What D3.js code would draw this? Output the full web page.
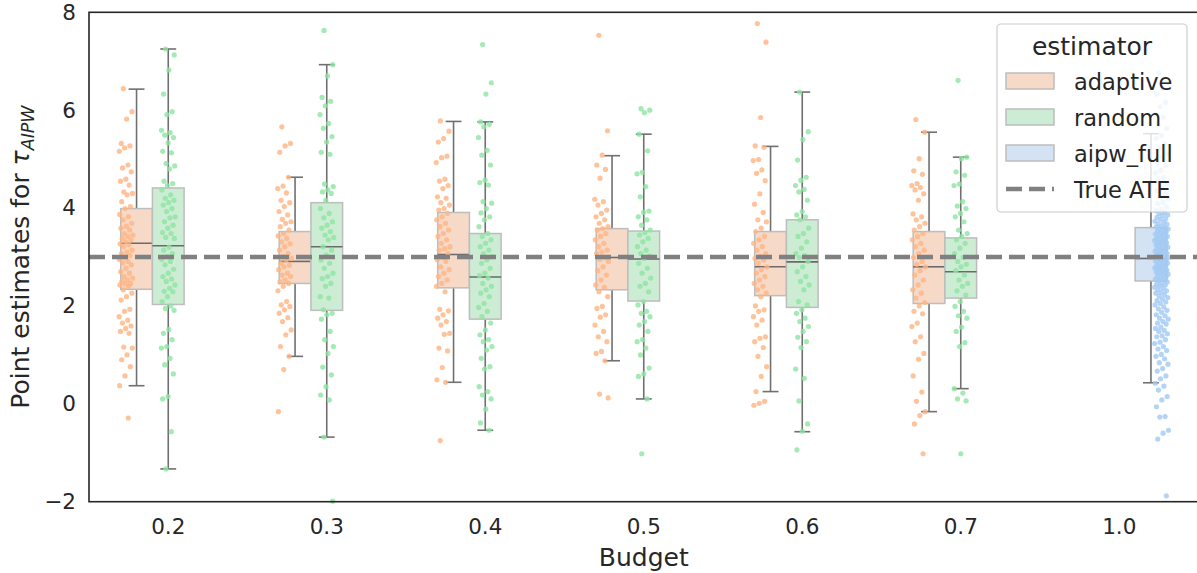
<!DOCTYPE html>
<html>
<head>
<meta charset="utf-8">
<script src="https://cdn.jsdelivr.net/npm/d3@7"></script>
<style>
  body { margin: 0; background: #fff; }
  svg { display: block; font-family: "DejaVu Sans", sans-serif; }
</style>
</head>
<body>
<svg id="chart" width="1197" height="573"></svg>
<script>
// Boxplot + stripplot of point estimates per budget, seaborn-style.

const budgets = ["0.2", "0.3", "0.4", "0.5", "0.6", "0.7", "1.0"];
const estimators = ["adaptive", "random", "aipw_full"];
const yTicks = [-2, 0, 2, 4, 6, 8];
const trueATE = 3.0;

// box stats per budget: [lower whisker, q1, median, q3, upper whisker]
const adaptiveBox = [
  [0.37, 2.34, 3.28, 3.99, 6.43],
  [0.97, 2.46, 2.91, 3.52, 4.63],
  [0.44, 2.37, 3.05, 3.91, 5.77],
  [0.88, 2.33, 2.99, 3.58, 5.07],
  [0.25, 2.21, 2.80, 3.52, 5.26],
  [-0.16, 2.05, 2.80, 3.52, 5.55]
];
const randomBox = [
  [-1.33, 2.03, 3.23, 4.41, 7.25],
  [-0.68, 1.91, 3.21, 4.11, 6.93],
  [-0.54, 1.73, 2.59, 3.48, 5.76],
  [0.10, 2.10, 2.96, 3.53, 5.51],
  [-0.57, 1.97, 2.90, 3.76, 6.37],
  [0.31, 2.16, 2.70, 3.39, 5.04]
];
const aipwBox = [0.43, 2.51, 2.97, 3.60, 5.52]; // budget 1.0 only

// individual estimates
const adaptive02 = [6.44, 5.97, 5.82, 5.32, 5.27, 5.23, 5.16, 4.88, 4.82, 4.74, 4.59, 4.55, 4.47, 4.33, 4.30, 4.27, 4.13, 4.03, 3.99, 3.87, 3.82, 3.76, 3.69, 3.63, 3.59, 3.55, 3.48, 3.45, 3.42, 3.38, 3.35, 3.31, 3.27, 3.25, 3.21, 3.14, 3.10, 3.07, 3.03, 2.99, 2.95, 2.91, 2.88, 2.84, 2.77, 2.70, 2.67, 2.60, 2.57, 2.53, 2.50, 2.46, 2.45, 2.43, 2.40, 2.33, 2.26, 2.19, 2.12, 1.93, 1.89, 1.78, 1.71, 1.65, 1.59, 1.54, 1.48, 1.44, 1.16, 1.14, 1.00, 0.90, 0.76, 0.57, 0.37, -0.29];
const random02 = [7.25, 7.13, 6.82, 6.33, 5.97, 5.91, 5.59, 5.54, 5.49, 5.44, 5.33, 5.16, 5.13, 4.91, 4.86, 4.80, 4.55, 4.50, 4.46, 4.37, 4.27, 4.20, 4.16, 4.11, 4.06, 3.99, 3.93, 3.82, 3.80, 3.72, 3.65, 3.59, 3.50, 3.48, 3.40, 3.38, 3.20, 3.14, 3.07, 3.01, 2.95, 2.91, 2.84, 2.75, 2.67, 2.60, 2.55, 2.50, 2.43, 2.36, 2.30, 2.29, 2.19, 2.09, 2.00, 1.95, 1.91, 1.52, 1.44, 1.31, 1.17, 1.14, 0.93, 0.80, 0.61, 0.15, 0.10, -0.57, -1.33];
const adaptive03 = [5.66, 5.32, 5.27, 5.14, 4.63, 4.45, 4.40, 4.31, 4.16, 4.11, 4.03, 3.93, 3.86, 3.77, 3.72, 3.69, 3.62, 3.55, 3.48, 3.43, 3.38, 3.31, 3.27, 3.21, 3.14, 3.07, 3.01, 2.97, 2.94, 2.87, 2.83, 2.80, 2.74, 2.67, 2.63, 2.60, 2.53, 2.49, 2.46, 2.40, 2.31, 2.09, 2.02, 1.99, 1.92, 1.85, 1.76, 1.68, 1.51, 1.41, 1.17, 0.97, 0.70, -0.16];
const random03 = [7.63, 6.93, 6.70, 6.26, 6.18, 6.09, 5.91, 5.73, 5.63, 5.46, 5.35, 5.14, 5.10, 4.49, 4.44, 4.37, 4.33, 4.30, 4.16, 3.99, 3.89, 3.80, 3.72, 3.65, 3.59, 3.52, 3.45, 3.40, 3.35, 3.21, 3.14, 3.04, 2.94, 2.87, 2.77, 2.67, 2.60, 2.56, 2.46, 2.40, 2.19, 2.16, 1.92, 1.85, 1.82, 1.73, 1.48, 1.31, 1.17, 1.03, 0.75, 0.59, 0.35, 0.18, 0.08, -0.68, -1.99];
const adaptive04 = [5.78, 5.57, 5.42, 5.35, 5.06, 5.03, 4.93, 4.59, 4.55, 4.46, 4.40, 4.23, 4.20, 4.11, 4.06, 3.99, 3.96, 3.89, 3.82, 3.76, 3.69, 3.62, 3.55, 3.48, 3.42, 3.35, 3.28, 3.21, 3.17, 3.14, 3.07, 2.99, 2.95, 2.91, 2.80, 2.74, 2.67, 2.60, 2.53, 2.46, 2.40, 2.29, 1.93, 1.90, 1.82, 1.75, 1.68, 1.61, 1.44, 1.42, 1.14, 1.08, 0.74, 0.49, 0.44, -0.75];
const random04 = [7.34, 6.56, 6.33, 5.76, 5.71, 5.66, 5.44, 5.18, 5.08, 4.88, 4.57, 4.52, 4.47, 4.13, 4.10, 3.99, 3.90, 3.82, 3.76, 3.62, 3.48, 3.42, 3.35, 3.28, 3.21, 3.14, 3.07, 3.01, 2.94, 2.87, 2.77, 2.67, 2.62, 2.57, 2.46, 2.40, 2.33, 2.26, 2.19, 2.05, 1.97, 1.89, 1.78, 1.65, 1.51, 1.41, 1.31, 1.27, 1.17, 1.10, 0.93, 0.76, 0.71, 0.35, 0.25, 0.18, 0.10, -0.11, -0.39, -0.54];
const adaptive05 = [7.53, 5.58, 5.08, 4.88, 4.79, 4.61, 4.18, 4.13, 4.06, 3.96, 3.89, 3.82, 3.76, 3.69, 3.62, 3.58, 3.55, 3.48, 3.42, 3.35, 3.28, 3.21, 3.14, 3.10, 3.07, 2.99, 2.95, 2.91, 2.80, 2.72, 2.63, 2.53, 2.43, 2.38, 2.29, 2.19, 1.99, 1.95, 1.82, 1.77, 1.61, 1.48, 1.37, 1.27, 1.07, 1.03, 0.88, 0.20, 0.12];
const random05 = [6.03, 6.00, 5.95, 5.51, 5.17, 4.73, 4.70, 4.44, 4.23, 3.94, 3.91, 3.82, 3.76, 3.65, 3.55, 3.50, 3.45, 3.38, 3.31, 3.21, 3.14, 3.07, 3.02, 2.97, 2.87, 2.77, 2.67, 2.57, 2.46, 2.40, 2.29, 2.09, 2.02, 1.89, 1.85, 1.78, 1.68, 1.61, 1.48, 1.31, 1.27, 1.14, 1.00, 0.73, 0.61, 0.56, 0.10, -1.02];
const adaptive06 = [7.77, 7.39, 5.85, 5.27, 5.24, 4.99, 4.97, 4.78, 4.71, 4.56, 4.29, 4.08, 3.91, 3.76, 3.72, 3.59, 3.52, 3.42, 3.35, 3.28, 3.21, 3.14, 3.07, 3.01, 2.97, 2.94, 2.87, 2.80, 2.74, 2.67, 2.60, 2.53, 2.46, 2.40, 2.33, 2.26, 2.19, 2.00, 1.92, 1.89, 1.78, 1.71, 1.61, 1.37, 1.34, 1.27, 1.15, 0.97, 0.76, 0.56, 0.25, 0.05, 0.01, -0.03];
const random06 = [6.37, 5.56, 5.40, 4.98, 4.63, 4.57, 4.46, 4.38, 4.33, 4.16, 3.93, 3.86, 3.82, 3.76, 3.59, 3.48, 3.42, 3.31, 3.18, 3.07, 3.03, 2.99, 2.91, 2.80, 2.70, 2.60, 2.50, 2.43, 2.33, 2.09, 2.02, 1.92, 1.85, 1.75, 1.68, 1.58, 1.48, 1.36, 1.27, 1.15, 0.71, 0.52, 0.06, -0.41, -0.56, -0.94];
const adaptive07 = [5.81, 5.55, 5.01, 4.76, 4.69, 4.50, 4.46, 4.42, 4.37, 4.29, 4.16, 3.88, 3.82, 3.76, 3.69, 3.62, 3.55, 3.48, 3.42, 3.35, 3.28, 3.21, 3.14, 3.07, 2.99, 2.91, 2.85, 2.80, 2.72, 2.63, 2.53, 2.43, 2.33, 2.26, 2.16, 2.07, 2.00, 1.89, 1.84, 1.65, 1.58, 1.37, 1.27, 1.03, 0.91, 0.57, 0.24, 0.05, -0.16, -0.24, -0.41, -1.02];
const random07 = [6.61, 5.04, 5.01, 4.74, 4.67, 4.49, 4.46, 4.13, 4.04, 3.99, 3.89, 3.82, 3.72, 3.55, 3.48, 3.42, 3.35, 3.28, 3.18, 3.07, 2.99, 2.91, 2.85, 2.80, 2.72, 2.63, 2.53, 2.46, 2.40, 2.31, 2.22, 2.09, 1.99, 1.89, 1.80, 1.75, 1.57, 1.48, 1.25, 1.17, 0.31, 0.22, 0.10, 0.06, -1.02];
const aipwFull10 = [6.76, 6.57, 6.44, 6.33, 6.16, 6.07, 5.92, 5.86, 5.70, 5.63, 5.48, 5.42, 5.31, 5.22, 5.11, 5.04, 4.93, 4.87, 4.77, 4.72, 4.62, 4.56, 4.48, 4.43, 4.35, 4.30, 4.23, 4.19, 4.12, 4.09, 4.02, 3.98, 3.95, 3.91,
  3.89, 3.86, 3.85, 3.81, 3.78, 3.77, 3.73, 3.71, 3.68, 3.67, 3.63, 3.62, 3.60, 3.58, 3.57, 3.54, 3.53, 3.51, 3.50, 3.47, 3.46, 3.44, 3.42, 3.41, 3.39, 3.38, 3.35, 3.34, 3.33, 3.30, 3.29, 3.28, 3.25, 3.24, 3.23, 3.20, 3.19, 3.17, 3.16, 3.14, 3.12, 3.11, 3.09, 3.07, 3.06, 3.04, 3.02, 3.01, 2.99, 2.98, 2.97, 2.95, 2.93, 2.92, 2.90, 2.88, 2.87, 2.85, 2.83, 2.82, 2.80, 2.78, 2.76, 2.75, 2.73, 2.71, 2.70, 2.68, 2.66, 2.65, 2.63, 2.61, 2.59, 2.57, 2.55, 2.53, 2.51, 2.49, 2.46, 2.44, 2.43, 2.40, 2.38, 2.36, 2.33, 2.31, 2.28, 2.26, 2.23, 2.20, 2.17, 2.14, 2.11, 2.08, 2.05, 2.02,
  1.98, 1.94, 1.91, 1.87, 1.82, 1.80, 1.75, 1.73, 1.68, 1.65, 1.63, 1.57, 1.54, 1.50, 1.48, 1.43, 1.39, 1.37, 1.31, 1.26, 1.23, 1.17, 1.12, 1.09, 1.01, 0.97, 0.92, 0.84, 0.81, 0.72, 0.67, 0.57, 0.51, 0.42, 0.36, 0.28, 0.15, 0.08, -0.06, -0.26, -0.27, -0.54, -0.60, -0.72, -1.88];

const colors = {
  adaptive: { box: "#f7d9c7", pt: "#ffb482" },
  random: { box: "#cdecd4", pt: "#8de5a1" },
  aipw_full: { box: "#d4e3f4", pt: "#a1c9f4" }
};

const boxes = [];
const strips = [];
budgets.slice(0, 6).forEach((b, i) => {
  boxes.push({ budget: b, est: "adaptive", s: adaptiveBox[i] });
  boxes.push({ budget: b, est: "random", s: randomBox[i] });
});
boxes.push({ budget: "1.0", est: "aipw_full", s: aipwBox });
const adaptivePts = [adaptive02, adaptive03, adaptive04, adaptive05, adaptive06, adaptive07];
const randomPts = [random02, random03, random04, random05, random06, random07];
budgets.slice(0, 6).forEach((b, i) => {
  adaptivePts[i].forEach((v, k) => strips.push({ budget: b, est: "adaptive", v, k }));
  randomPts[i].forEach((v, k) => strips.push({ budget: b, est: "random", v, k }));
});
aipwFull10.forEach((v, k) => strips.push({ budget: "1.0", est: "aipw_full", v, k }));

const svg = d3.select("#chart");
const mLeft = 89, mRight = 1198.5, mTop = 12.3, mBottom = 501.7;
const x = d3.scaleBand().domain(budgets).range([mLeft, mRight]);
const bw = x.bandwidth();
const y = d3.scaleLinear().domain([-2, 8]).range([mBottom, mTop]);
const hueIdx = d3.scaleOrdinal().domain(estimators).range([-1, 0, 1]);
const boxW = 0.2 * bw;
const boxX = (d) => x(d.budget) + bw / 2 + hueIdx(d.est) * boxW;
const stripX = (d) => x(d.budget) + bw / 2 + hueIdx(d.est) * (0.8 / 3) * bw;
// deterministic horizontal jitter (layout only)
const jitter = (k) => (((k * 0.6180339887 + 0.31) % 1) - 0.5) * 14;

// boxes
const gb = svg.append("g");
const bx = gb.selectAll("g").data(boxes).join("g");
bx.append("line")
  .attr("x1", boxX).attr("x2", boxX)
  .attr("y1", (d) => y(d.s[0])).attr("y2", (d) => y(d.s[1]))
  .attr("stroke", "#707070").attr("stroke-width", 1.6);
bx.append("line")
  .attr("x1", boxX).attr("x2", boxX)
  .attr("y1", (d) => y(d.s[3])).attr("y2", (d) => y(d.s[4]))
  .attr("stroke", "#707070").attr("stroke-width", 1.6);
[0, 4].forEach((j) => {
  bx.append("line")
    .attr("x1", (d) => boxX(d) - boxW / 4).attr("x2", (d) => boxX(d) + boxW / 4)
    .attr("y1", (d) => y(d.s[j])).attr("y2", (d) => y(d.s[j]))
    .attr("stroke", "#707070").attr("stroke-width", 1.6);
});
bx.append("rect")
  .attr("x", (d) => boxX(d) - boxW / 2).attr("width", boxW)
  .attr("y", (d) => y(d.s[3])).attr("height", (d) => y(d.s[1]) - y(d.s[3]))
  .attr("fill", (d) => colors[d.est].box)
  .attr("stroke", "#bdbdbd").attr("stroke-width", 1.5);
bx.append("line")
  .attr("x1", (d) => boxX(d) - boxW / 2).attr("x2", (d) => boxX(d) + boxW / 2)
  .attr("y1", (d) => y(d.s[2])).attr("y2", (d) => y(d.s[2]))
  .attr("stroke", "#6a6a6a").attr("stroke-width", 1.6);

// strip points
svg.append("g").selectAll("circle").data(strips).join("circle")
  .attr("cx", (d) => stripX(d) + jitter(d.k))
  .attr("cy", (d) => y(d.v))
  .attr("r", 2.6)
  .attr("fill", (d) => colors[d.est].pt)
  .attr("fill-opacity", 0.8);

// true ATE
svg.append("line")
  .attr("x1", mLeft).attr("x2", mRight)
  .attr("y1", y(trueATE)).attr("y2", y(trueATE))
  .attr("stroke", "#808080").attr("stroke-width", 4.3)
  .attr("stroke-dasharray", "16,7");

// axes
const fmt = (d) => (d < 0 ? "\u2212" + Math.abs(d) : String(d));
const ya = svg.append("g").attr("transform", `translate(${mLeft},0)`)
  .call(d3.axisLeft(y).tickValues(yTicks).tickFormat(fmt).tickSize(0).tickPadding(13));
const xa = svg.append("g").attr("transform", `translate(0,${mBottom})`)
  .call(d3.axisBottom(x).tickSize(0).tickPadding(17));
[ya, xa].forEach((a) => {
  a.select(".domain").remove();
  a.selectAll("text").attr("font-size", 21.5).attr("fill", "#262626")
    .attr("font-family", "DejaVu Sans");
});
svg.append("rect")
  .attr("x", mLeft).attr("y", mTop).attr("width", mRight - mLeft).attr("height", mBottom - mTop)
  .attr("fill", "none").attr("stroke", "#262626").attr("stroke-width", 1.6);

svg.append("text").attr("x", (mLeft + mRight) / 2).attr("y", 566)
  .attr("text-anchor", "middle").attr("font-size", 25).attr("fill", "#262626")
  .text("Budget");
const yl = svg.append("text")
  .attr("transform", `translate(29,${(mTop + mBottom) / 2}) rotate(-90)`)
  .attr("text-anchor", "middle").attr("font-size", 25).attr("fill", "#262626");
yl.append("tspan").text("Point estimates for ");
yl.append("tspan").attr("font-style", "italic").text("\u03c4");
yl.append("tspan").attr("font-style", "italic").attr("font-size", 17.5)
  .attr("baseline-shift", "-5").text("AIPW");

// legend
const lg = svg.append("g");
lg.append("rect").attr("x", 997).attr("y", 24).attr("width", 190).attr("height", 188)
  .attr("rx", 4).attr("fill", "#fff").attr("fill-opacity", 0.8)
  .attr("stroke", "#cccccc").attr("stroke-width", 1.2);
lg.append("text").attr("x", 1092).attr("y", 55).attr("text-anchor", "middle")
  .attr("font-size", 25).attr("fill", "#262626").text("estimator");
const rowsY = [81, 117, 153];
estimators.forEach((e, i) => {
  lg.append("rect").attr("x", 1006).attr("y", rowsY[i] - 8).attr("width", 48).attr("height", 16)
    .attr("fill", colors[e].box).attr("stroke", "#bdbdbd").attr("stroke-width", 1.5);
  lg.append("text").attr("x", 1074).attr("y", rowsY[i] + 8.5)
    .attr("font-size", 22.5).attr("fill", "#262626").text(e);
});
lg.append("line").attr("x1", 1006).attr("x2", 1054).attr("y1", 189).attr("y2", 189)
  .attr("stroke", "#808080").attr("stroke-width", 4.3).attr("stroke-dasharray", "16,7");
lg.append("text").attr("x", 1074).attr("y", 197.5)
  .attr("font-size", 22.5).attr("fill", "#262626").text("True ATE");
</script>
</body>
</html>
